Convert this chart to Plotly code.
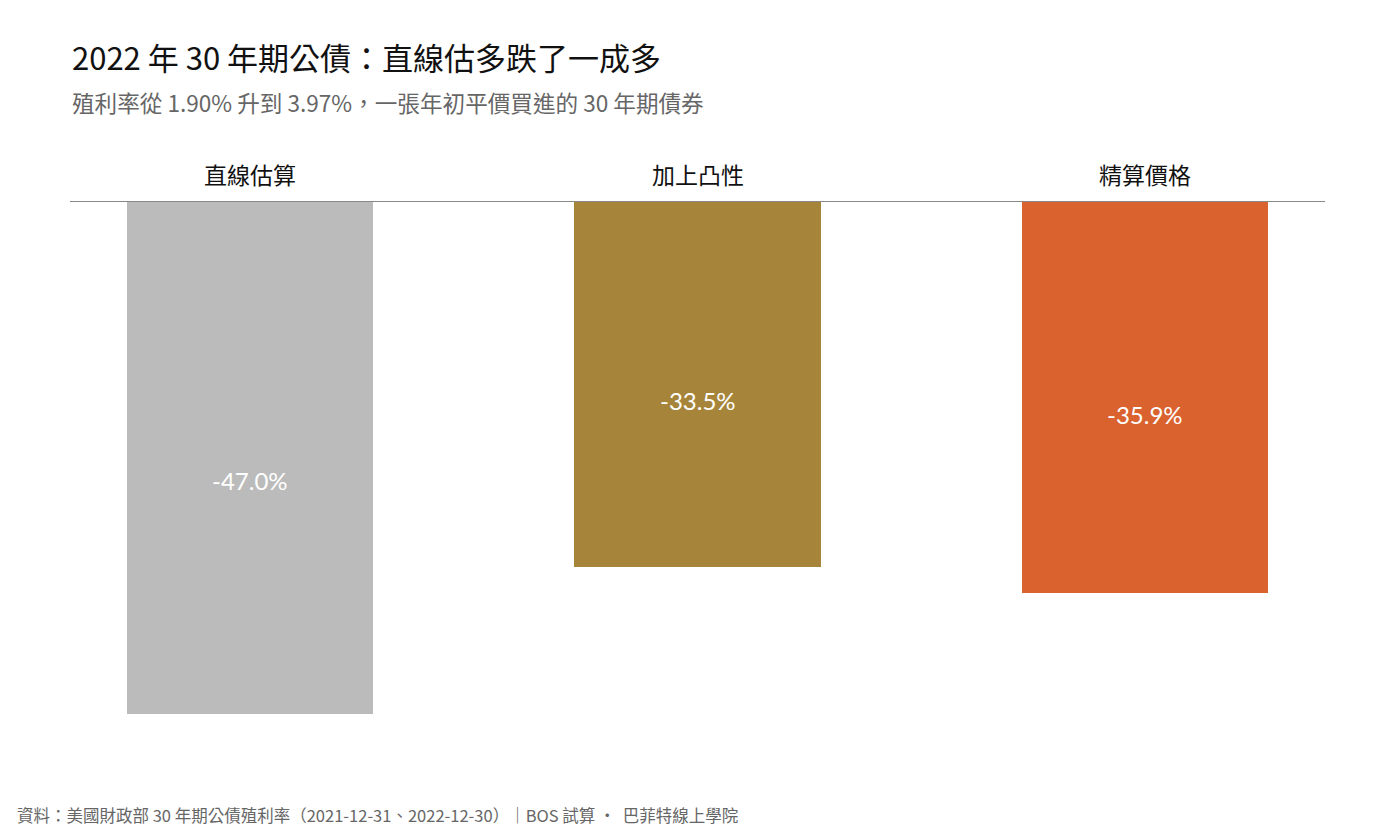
import plotly.graph_objects as go

categories = ["直線估算", "加上凸性", "精算價格"]
values = [-47.0, -33.5, -35.9]
colors = ["#BBBBBB", "#A6853B", "#D9622F"]
value_labels = ["-47.0%", "-33.5%", "-35.9%"]

title_text = "2022 年 30 年期公債：直線估多跌了一成多"
subtitle_text = "殖利率從 1.90% 升到 3.97%，一張年初平價買進的 30 年期債券"
footer_text = "資料：美國財政部 30 年期公債殖利率（2021-12-31、2022-12-30）｜BOS 試算 ·  巴菲特線上學院"

W, H = 1395, 837
ML, MR, MT, MB = 70, 70, 201, 97
plot_h = H - MT - MB

def ypaper(py):
    return (H - MB - py) / plot_h

def xpaper(px):
    return (px - ML) / (W - ML - MR)

FONT = "Noto Sans CJK TC, Noto Sans, sans-serif"

x = list(range(len(categories)))

fig = go.Figure()
fig.add_trace(go.Bar(
    x=x, y=values, width=0.55,
    marker=dict(color=colors, line=dict(width=0)),
    hoverinfo="skip",
))

annotations = []
for i, (c, v, lab) in enumerate(zip(categories, values, value_labels)):
    annotations.append(dict(x=i, y=1, xref="x", yref="paper", text=c, showarrow=False,
                            yanchor="bottom", yshift=8,
                            font=dict(family=FONT, size=23, color="#111111")))
    annotations.append(dict(x=i, y=v * 0.545, xref="x", yref="y", text=lab, showarrow=False,
                            font=dict(family="Lato, Noto Sans, sans-serif", size=24, color="#FFFFFF")))

annotations.append(dict(x=xpaper(70), y=ypaper(56), xref="paper", yref="paper", text=title_text,
                        showarrow=False, xanchor="left", yanchor="middle",
                        font=dict(family=FONT, size=31, color="#111111")))
annotations.append(dict(x=xpaper(70), y=ypaper(102), xref="paper", yref="paper", text=subtitle_text,
                        showarrow=False, xanchor="left", yanchor="middle",
                        font=dict(family=FONT, size=22.6, color="#666666")))
annotations.append(dict(x=xpaper(15), y=ypaper(815), xref="paper", yref="paper", text=footer_text,
                        showarrow=False, xanchor="left", yanchor="middle",
                        font=dict(family=FONT, size=16.5, color="#666666")))

fig.update_layout(
    width=W, height=H,
    margin=dict(l=ML, r=MR, t=MT, b=MB),
    paper_bgcolor="white", plot_bgcolor="white",
    showlegend=False,
    bargap=0,
    xaxis=dict(range=[-0.402, 2.402], visible=False, fixedrange=True),
    yaxis=dict(range=[-plot_h / 10.915, 0], visible=False, fixedrange=True),
    annotations=annotations,
    shapes=[dict(type="line", xref="paper", yref="paper", x0=0, x1=1,
                 y0=ypaper(201.5), y1=ypaper(201.5),
                 line=dict(color="#888888", width=1), layer="above")],
)

fig.write_html("out.html")
